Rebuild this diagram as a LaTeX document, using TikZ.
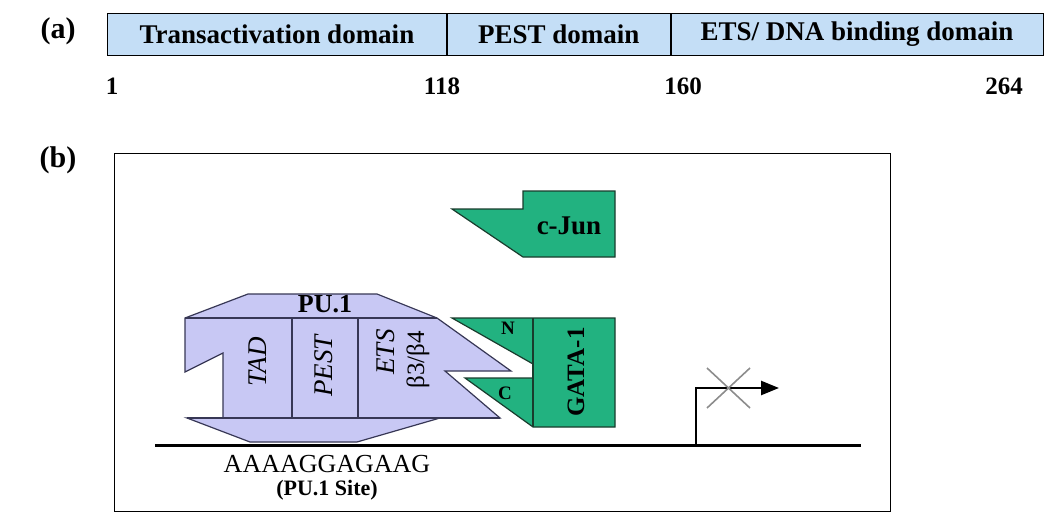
\documentclass[tikz,border=0pt]{standalone}
\usepackage{fontspec}
\setmainfont{Liberation Serif}
\usepackage{tikz}
\usetikzlibrary{positioning, arrows.meta}
\definecolor{barblue}{RGB}{196, 222, 246}
\definecolor{pufill}{RGB}{200, 200, 244}
\definecolor{puline}{RGB}{55, 55, 85}
\definecolor{grfill}{RGB}{34, 178, 128}
\definecolor{grline}{RGB}{25, 60, 45}

\begin{document}
\begin{tikzpicture}[
  x=1pt, y=-1pt,
  dom/.style={draw, thick, fill=barblue, minimum height=42, inner sep=0pt, font=\bfseries\fontsize{27}{30}\selectfont},
  num/.style={inner sep=0pt, font=\bfseries\fontsize{25}{28}\selectfont},
  panel/.style={inner sep=0pt, font=\bfseries\fontsize{30}{32}\selectfont},
  frame/.style={draw, thick, minimum width=776, minimum height=358, inner sep=0pt},
  pu/.style={draw=puline, fill=pufill, line width=1.2pt, line join=miter},
  puin/.style={draw=puline, line width=1.2pt},
  gr/.style={draw=grline, fill=grfill, line width=1.2pt, line join=miter},
  dna/.style={draw, line width=3pt},
  prom/.style={draw, line width=2.5pt, -{Triangle[length=18pt, width=14pt]}},
  cross/.style={draw, black!45, line width=1.6pt},
  domlab/.style={inner sep=0pt, rotate=90, font=\itshape\fontsize{27}{29}\selectfont},
  blab/.style={inner sep=0pt, font=\bfseries\fontsize{#1}{#1}\selectfont},
]
  \useasboundingbox (0,0) rectangle (1045,514);

  % (a) domain map of PU.1
  \node[panel] (pa) at (58,31) {(a)};
  \node[dom, anchor=north west, minimum width=339] (tad) at (107,13) {Transactivation domain};
  \node[dom, right=0pt of tad, minimum width=223] (pest) {PEST domain};
  \node[dom, right=0pt of pest, minimum width=372] (ets) {ETS/ DNA binding domain};

  \node[num] (n1) at (112,86) {1};
  \node[num] (n118) at (442,86) {118};
  \node[num] (n160) at (683,86) {160};
  \node[num] (n264) at (1004,86) {264};

  % (b) PU.1 on its site, GATA-1 and c-Jun
  \node[panel] (pb) at (58,160) {(b)};
  \node[frame, anchor=north west] (frame) at (114,153) {};

  \coordinate (dnaL) at (155,445);
  \coordinate (dnaR) at (861,445);
  \draw[dna] (dnaL) -- (dnaR);

  % PU.1 body
  \draw[pu] (248,294) -- (377,294) -- (437,318) -- (511,371) -- (445,371) -- (500,418)
    -- (440,418) -- (357,442) -- (250,442) -- (187,418) -- (223,418) -- (223,353)
    -- (185,372) -- (185,318) -- cycle;
  \draw[puin] (185,318) -- (437,318);
  \draw[puin] (187,418) -- (500,418);
  \draw[puin] (292,318) -- (292,418);
  \draw[puin] (358,318) -- (358,418);

  \node[blab=26] (pu1) at (325,304) {PU.1};
  \node[domlab] (ltad) at (258,362) {TAD};
  \node[domlab] (lpest) at (324,366) {PEST};
  \node[domlab] (lets) at (386,352) {ETS};
  \node[domlab, font=\fontsize{25}{27}\selectfont] (lbeta) at (418,360) {β3/β4};

  % GATA-1
  \draw[gr] (452,318) -- (615,318) -- (615,427) -- (533,427) -- (465,378) -- (533,378)
    -- (533,364) -- cycle;
  \draw[gr, fill=none] (533,318) -- (533,427);
  \node[blab=19] (nterm) at (508,328) {N};
  \node[blab=19] (cterm) at (505,393) {C};
  \node[blab=25, rotate=90] (gata) at (576,372) {GATA-1};

  % c-Jun
  \draw[gr] (452,209) -- (523,209) -- (523,191) -- (615,191) -- (615,257) -- (523,257) -- cycle;
  \node[blab=27] (cjun) at (569,226) {c-Jun};

  % blocked promoter
  \coordinate (tss) at (696,445);
  \coordinate (tssend) at (779,388);
  \draw[prom] (tss) |- (tssend);
  \draw[cross] (707,368) -- (750,408);
  \draw[cross] (750,368) -- (707,408);

  % binding site
  \node[inner sep=0pt, font=\fontsize{26}{28}\selectfont] (site) at (327,464) {AAAAGGAGAAG};
  \node[blab=22, below=7pt of site] (sitelab) {(PU.1 Site)};
\end{tikzpicture}
\end{document}
